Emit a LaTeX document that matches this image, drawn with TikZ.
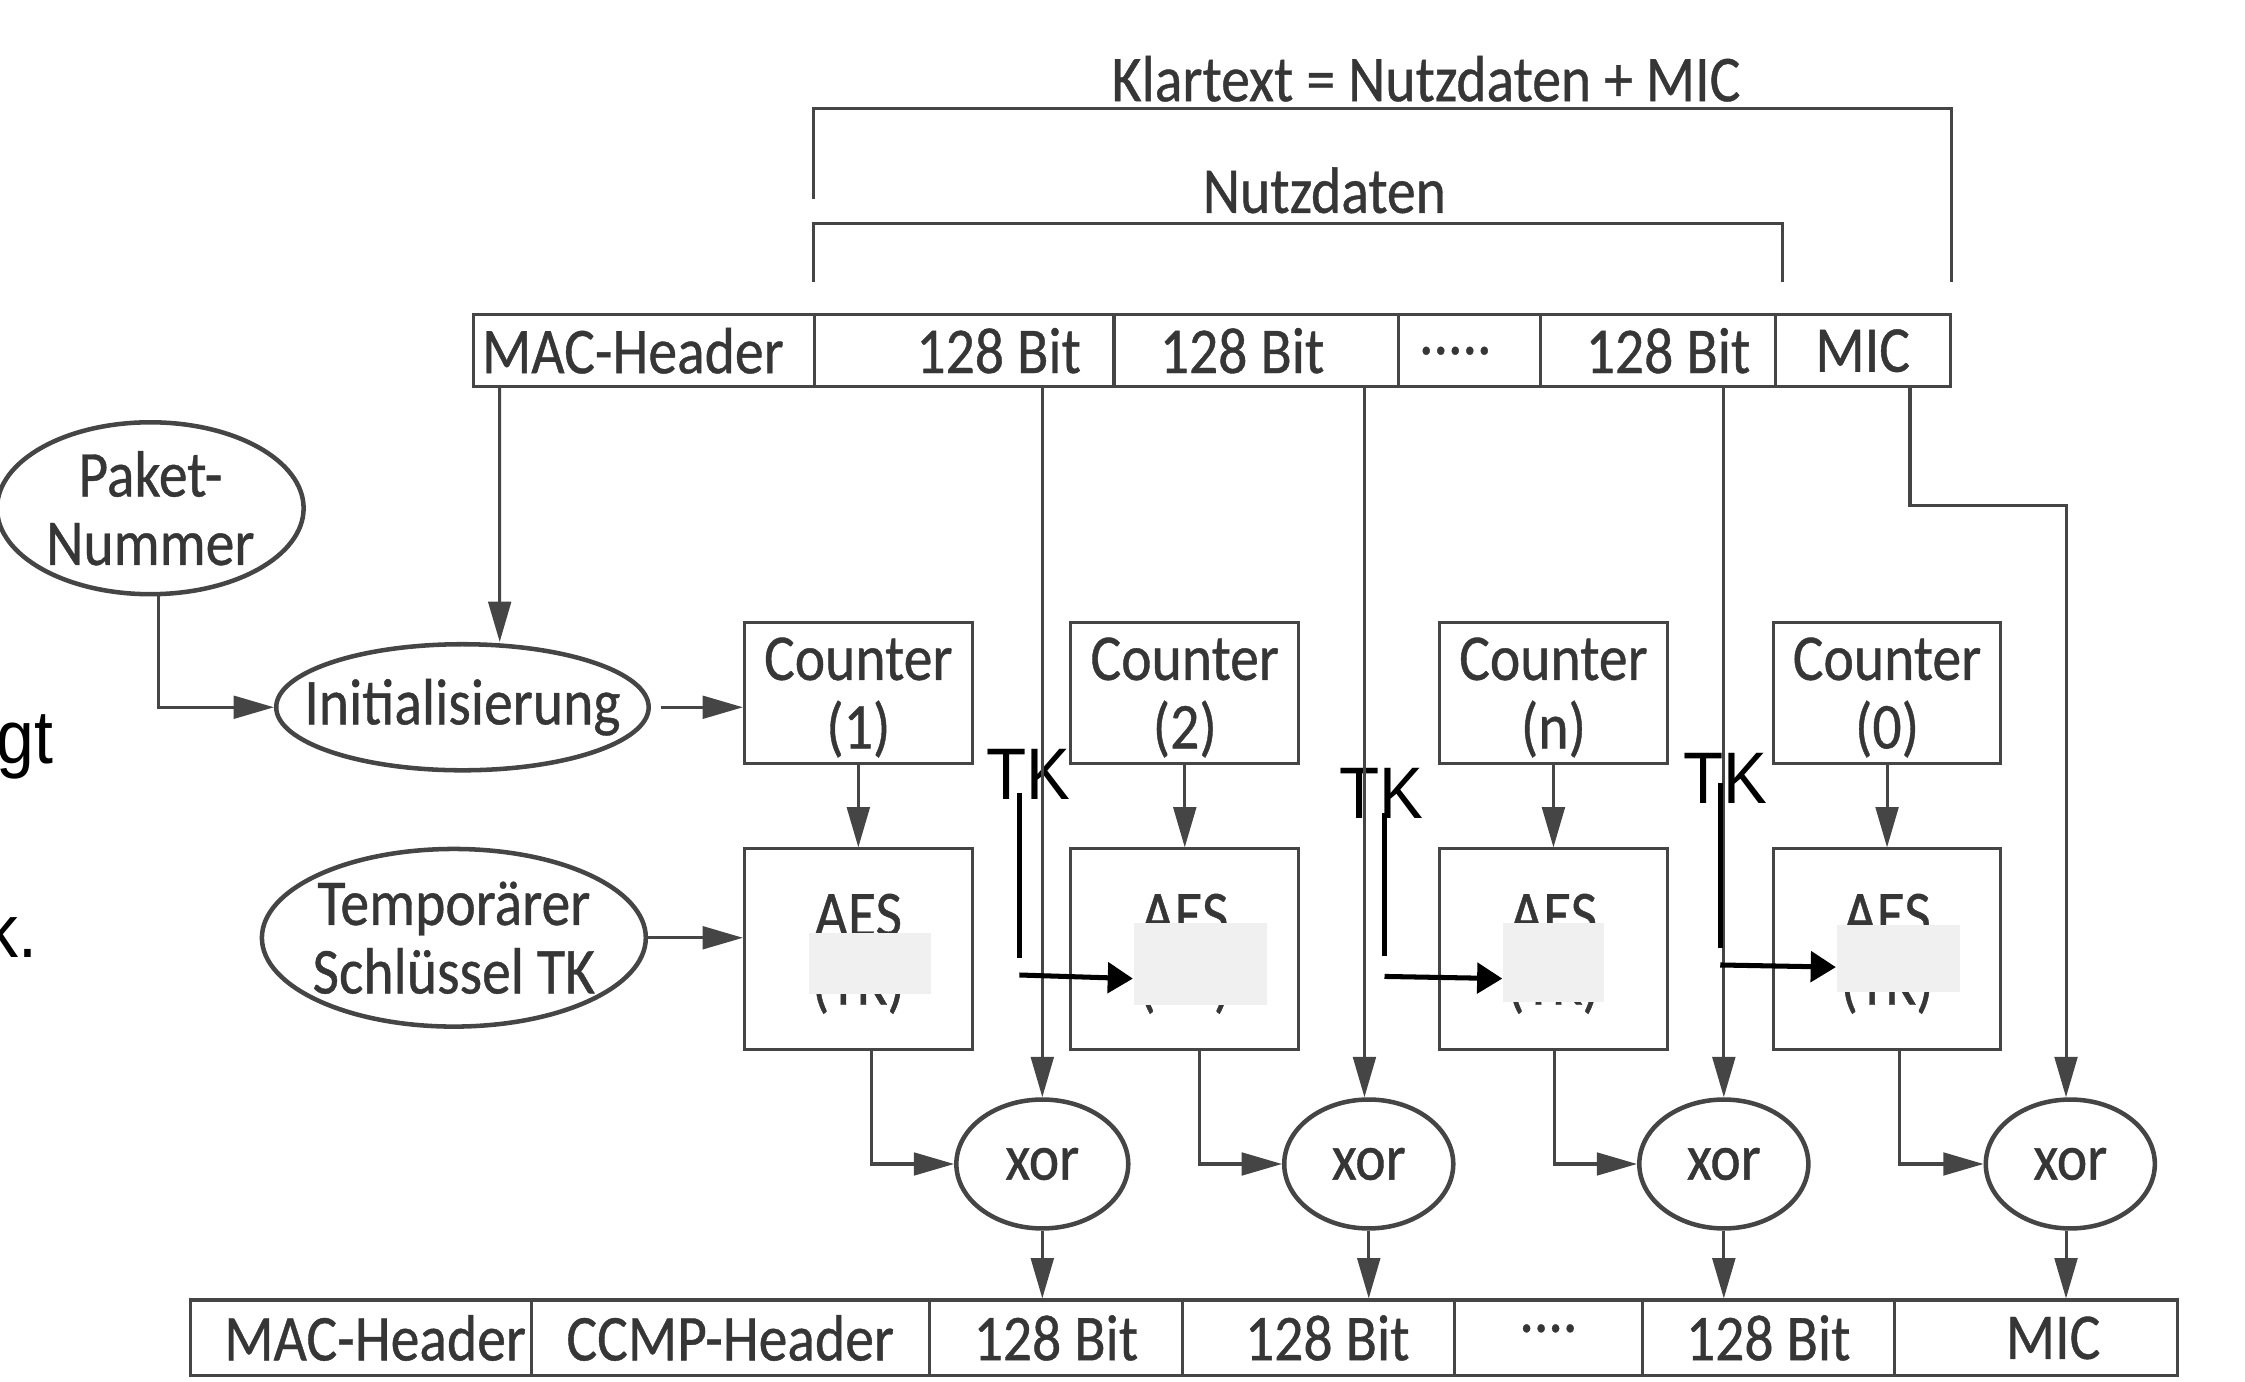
\documentclass[tikz,border=0pt]{standalone}
\usepackage{fontspec}
\setmainfont{Carlito}[FakeStretch=0.88,FakeBold=0.6]
\newfontfamily\slidefont{Liberation Sans}[FakeStretch=0.9]
\usetikzlibrary{arrows.meta,shapes.geometric}

\definecolor{drawgray}{HTML}{454545}
\definecolor{textgray}{HTML}{363636}
\definecolor{patchgray}{HTML}{F0F0F0}

% text that does not widen its node
\newcommand{\ctext}[1]{\makebox[0pt][c]{#1}}

\tikzset{
  every node/.style={text=textgray, font=\fontsize{13}{13.6}\selectfont},
  cellbox/.style={draw=drawgray, line width=0.6pt, shape=rectangle, inner sep=0pt},
  topcell/.style={cellbox, minimum height=0.50cm},
  botcell/.style={cellbox, minimum height=0.53cm},
  blockbox/.style={draw=drawgray, line width=0.6pt, shape=rectangle, minimum width=1.59cm, inner sep=0pt, align=center, text depth=0pt},
  oval/.style={draw=drawgray, line width=0.9pt, shape=ellipse, inner sep=0pt, align=center},
  patch/.style={fill=patchgray, shape=rectangle, inner sep=0pt},
  tklabel/.style={text=black, font=\slidefont\fontsize{14.5}{16}\selectfont, inner sep=0pt},
  slidetext/.style={text=black, font=\slidefont\fontsize{15}{17}\selectfont, inner sep=0pt},
  plain/.style={draw=drawgray, line width=0.6pt},
  flow/.style={plain, ->},
  keyline/.style={draw=black, line width=1pt},
  keyflow/.style={keyline, -{Triangle[length=5pt,width=6pt]}}
}

\begin{document}
\begin{tikzpicture}[x=0.01cm, y=-0.01cm, >={Triangle[length=8pt,width=4.5pt]}]
\useasboundingbox (0,0) rectangle (1568,965);

% plaintext frame
\node (klartext) at (996,55) {Klartext = Nutzdaten + MIC};
\node (nutzdaten) at (925,133) {Nutzdaten};
\node[topcell, minimum width=2.38cm] (t1) at (450,245) {MAC-Header\hspace*{1.6mm}};
\node[topcell, minimum width=2.09cm] (t2) at (673.5,245) {\hspace*{4.8mm}128 Bit};
\node[topcell, minimum width=1.99cm] (t3) at (877.5,245) {128 Bit\hspace*{2mm}};
\node[topcell, minimum width=0.99cm] (t4) at (1026.5,245) {.....\hspace*{2mm}};
\node[topcell, minimum width=1.64cm] (t5) at (1158,245) {\hspace*{1.4mm}128 Bit};
\node[topcell, minimum width=1.22cm] (t6) at (1301,245) {MIC};
\draw[plain] ([yshift=0.80cm]t2.north west) |- ([yshift=1.43cm]t6.north east) -- ([yshift=0.22cm]t6.north east);
\draw[plain] ([yshift=0.22cm]t2.north west) |- ([xshift=0.4mm,yshift=0.63cm]t5.north east) -- ([xshift=0.4mm,yshift=0.22cm]t5.north east);

% inputs
\node[oval, minimum width=2.14cm, minimum height=1.20cm] (paket) at (105,355) {\ctext{Paket-}\\\ctext{Nummer}};
\node[oval, minimum width=2.60cm, minimum height=0.88cm] (init) at (323,494) {\ctext{Initialisierung}};
\node[oval, minimum width=2.68cm, minimum height=1.24cm] (temp) at (317,655) {\ctext{Temporärer}\\\ctext{Schlüssel TK}};

% counter and AES blocks
\node[blockbox, minimum height=0.98cm] (c1) at (599.5,484) {Counter\\(1)};
\node[blockbox, minimum height=0.98cm] (c2) at (827.5,484) {Counter\\(2)};
\node[blockbox, minimum height=0.98cm] (cn) at (1085,484) {Counter\\(n)};
\node[blockbox, minimum height=0.98cm] (c0) at (1318,484) {Counter\\(0)};
\node[blockbox, minimum height=1.40cm] (aes1) at (599.5,663) {AES\\(TK)};
\node[blockbox, minimum height=1.40cm] (aes2) at (827.5,663) {AES\\(TK)};
\node[blockbox, minimum height=1.40cm] (aesn) at (1085,663) {AES\\(TK)};
\node[blockbox, minimum height=1.40cm] (aes0) at (1318,663) {AES\\(TK)};
\node[patch, minimum width=0.85cm, minimum height=0.42cm] (p1) at (607.5,673) {};
\node[patch, minimum width=0.93cm, minimum height=0.57cm] (p2) at (838.5,673.5) {};
\node[patch, minimum width=0.70cm, minimum height=0.55cm] (p3) at (1085,672.5) {};
\node[patch, minimum width=0.86cm, minimum height=0.47cm] (p4) at (1326,669.5) {};

% xor
\node[oval, minimum width=1.20cm, minimum height=0.90cm] (xor1) at (728,813) {xor};
\node[oval, minimum width=1.18cm, minimum height=0.90cm] (xor2) at (956,813) {xor};
\node[oval, minimum width=1.18cm, minimum height=0.90cm] (xor3) at (1204,813) {xor};
\node[oval, minimum width=1.18cm, minimum height=0.90cm] (xor4) at (1446,813) {xor};

% ciphertext frame
\node[botcell, minimum width=2.38cm] (b1) at (252,934.5) {\hspace*{2mm}MAC-Header};
\node[botcell, minimum width=2.78cm] (b2) at (510,934.5) {CCMP-Header};
\node[botcell, minimum width=1.77cm] (b3) at (737.5,934.5) {128 Bit};
\node[botcell, minimum width=1.90cm] (b4) at (921,934.5) {\hspace*{1.2mm}128 Bit};
\node[botcell, minimum width=1.31cm] (b5) at (1081.5,934.5) {\raisebox{0.3em}{....}};
\node[botcell, minimum width=1.76cm] (b6) at (1235,934.5) {128 Bit};
\node[botcell, minimum width=1.98cm] (b7) at (1422,934.5) {\hspace*{2.4mm}MIC};

% key labels
\node[tklabel] (tk1) at (718,541) {TK};
\node[tklabel] (tk2) at (965,554) {TK};
\node[tklabel] (tk3) at (1205,544) {TK};
\node[slidetext, anchor=base east] (gt) at (38,533) {gt};
\node[slidetext, anchor=base east] (kdot) at (27,669) {k.};

% connections
\draw[flow] ([xshift=-1.01cm]t1.south) -- ([xshift=2.6mm]init.north);
\draw[flow] ([xshift=0.6mm]paket.south) |- (init.west);
\draw[flow] ([xshift=0.7mm]init.east) -- (init.east -| c1.west);
\draw[flow] (temp.east) -- (temp.east -| aes1.west);
\draw[flow] (c1.south) -- (aes1.north);
\draw[flow] (c2.south) -- (aes2.north);
\draw[flow] (cn.south) -- (aesn.north);
\draw[flow] (c0.south) -- (aes0.north);
\draw[flow] (t2.south -| xor1.north) -- (xor1.north);
\draw[flow] ([xshift=-0.3mm]t3.south -| xor2.north) -- ([xshift=-0.3mm]xor2.north);
\draw[flow] (t5.south -| xor3.north) -- (xor3.north);
\draw[flow] ([xshift=3.3mm]t6.south) |- ++(0,82) -| ([xshift=-0.3mm]xor4.north);
\draw[flow] ([xshift=0.95mm]aes1.south) |- (xor1.west);
\draw[flow] ([xshift=1.05mm]aes2.south) |- (xor2.west);
\draw[flow] ([xshift=0.1mm]aesn.south) |- (xor3.west);
\draw[flow] ([xshift=0.9mm]aes0.south) |- (xor4.west);
\draw[flow] (xor1.south) -- (xor1.south |- b3.north);
\draw[flow] (xor2.south) -- (xor2.south |- b4.north);
\draw[flow] (xor3.south) -- (xor3.south |- b6.north);
\draw[flow] ([xshift=-0.3mm]xor4.south) -- ([xshift=-0.3mm]xor4.south |- b7.north);

% key paths
\coordinate (k1a) at (712,554);
\coordinate (k1b) at (712,669);
\coordinate (k1c) at (712,681);
\coordinate (k2a) at (967,568);
\coordinate (k2b) at (967,668);
\coordinate (k2c) at (967,682);
\coordinate (k3a) at (1201.5,547);
\coordinate (k3b) at (1201.5,662);
\coordinate (k3c) at (1201.5,674);
\draw[keyline] (k1a) -- (k1b);
\draw[keyline] (k2a) -- (k2b);
\draw[keyline] (k3a) -- (k3b);
\draw[keyflow] (k1c) -- ([yshift=-1mm]p2.west);
\draw[keyflow] (k2c) -- ([yshift=-1.1mm]p3.west);
\draw[keyflow] (k3c) -- ([yshift=-0.6mm]p4.west);
\end{tikzpicture}
\end{document}
